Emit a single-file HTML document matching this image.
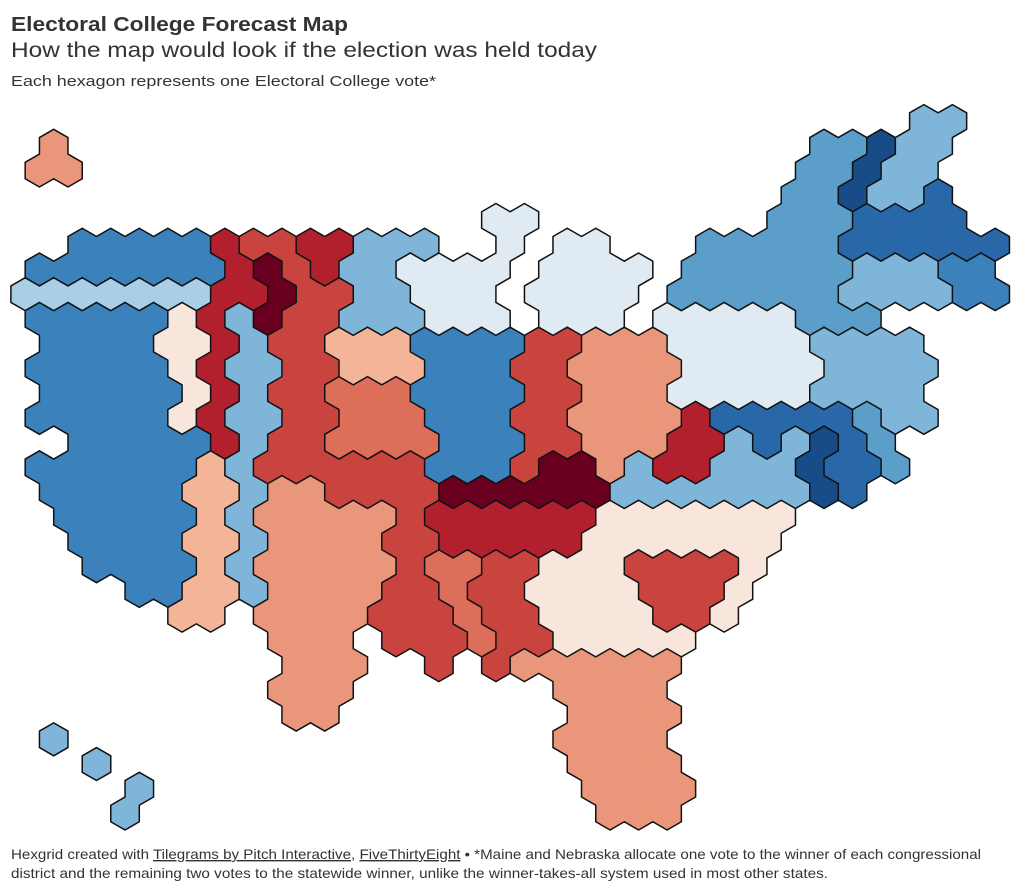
<!DOCTYPE html>
<html><head><meta charset="utf-8"><style>
html,body{margin:0;padding:0;background:#fff;}
svg{display:block;font-family:"Liberation Sans",Arial,sans-serif;}
</style></head><body>
<svg id="chart" width="1020" height="893" viewBox="0 0 1020 893">
<text x="11" y="31" font-size="20" font-weight="bold" fill="#333" textLength="337" lengthAdjust="spacingAndGlyphs">Electoral College Forecast Map</text>
<text x="11" y="57" font-size="21" fill="#333" textLength="586" lengthAdjust="spacingAndGlyphs">How the map would look if the election was held today</text>
<text x="11" y="86" font-size="15" fill="#333" textLength="425" lengthAdjust="spacingAndGlyphs">Each hexagon represents one Electoral College vote*</text>
<g id="cells"></g>
<g id="borders"></g>
<text x="11" y="859" font-size="14" fill="#333" textLength="970" lengthAdjust="spacingAndGlyphs">Hexgrid created with <tspan text-decoration="underline">Tilegrams by Pitch Interactive</tspan>, <tspan text-decoration="underline">FiveThirtyEight</tspan> • *Maine and Nebraska allocate one vote to the winner of each congressional</text>
<text x="11" y="878" font-size="14" fill="#333" textLength="817" lengthAdjust="spacingAndGlyphs">district and the remaining two votes to the statewide winner, unlike the winner-takes-all system used in most other states.</text>
</svg>
<script>
// rating categories (color per forecast category)
const ratingKeys = ["A","B","C","D","E","F","P","W","L","K","M","N","O","Q"];
const ratingColors = ["#e9967a","#f4b498","#dd6f5a","#c9443f","#b2202d","#6a0020","#f8e5dc","#dfeaf2","#a8cfe5","#7fb5d8","#5b9ec9","#3b81bb","#2868a8","#174c89"];
// hex rows: each entry "rating:mStart-mEnd" (doubled column coords, step 2)
const rowIndex = [-1,0,1,2,3,4,5,6,7,8,9,10,11,12,13,14,15,16,17,18,19,20,21,22,23,24,25,26,27];
const rowSegments = [
"K:61-63",
"A:0-0 M:54-56 Q:58-58 K:60-62",
"A:-1-1 M:53-55 Q:57-57 K:59-61",
"M:52-54 Q:56-56 K:58-60 O:62-62",
"W:31-33 M:51-55 O:57-63",
"N:2-10 E:12-12 D:14-16 E:18-20 K:22-26 W:32-32 W:36-38 M:46-54 O:56-66",
"N:-1-11 E:13-13 F:15-15 D:17-17 E:19-19 K:21-23 W:25-31 W:35-41 M:45-55 K:57-61 N:63-65",
"L:-2-10 E:12-14 F:16-16 D:18-20 K:22-24 W:26-30 W:34-40 M:44-54 K:56-62 N:64-66",
"N:-1-7 P:9-9 E:11-11 K:13-13 F:15-15 D:17-19 K:21-25 W:27-31 W:35-39 W:43-51 M:53-57",
"N:0-6 P:8-10 E:12-12 K:14-14 D:16-18 B:20-24 N:26-32 D:34-36 A:38-42 W:44-52 K:54-60",
"N:-1-7 P:9-9 E:11-11 K:13-15 D:17-19 B:21-25 N:27-31 D:33-35 A:37-43 W:45-53 K:55-61",
"N:0-8 P:10-10 E:12-12 K:14-14 D:16-18 C:20-24 N:26-32 D:34-36 A:38-42 W:44-52 K:54-60",
"N:-1-7 P:9-9 E:11-11 K:13-15 D:17-19 C:21-25 N:27-31 D:33-35 A:37-43 E:45-45 O:47-55 M:57-57 K:59-61",
"N:2-10 E:12-12 K:14-14 D:16-18 C:20-26 N:28-32 D:34-36 A:38-42 E:44-46 K:48-48 O:50-50 K:52-52 Q:54-54 O:56-56 M:58-58",
"N:-1-9 B:11-11 K:13-13 D:15-25 N:27-31 D:33-33 F:35-37 A:39-39 K:41-41 E:43-45 K:47-51 Q:53-53 O:55-57 M:59-59",
"N:0-8 B:10-12 K:14-14 A:16-18 D:20-26 F:28-38 K:40-52 Q:54-54 O:56-56",
"N:1-9 B:11-11 K:13-13 A:15-23 D:25-25 E:27-37 P:39-51",
"N:2-8 B:10-12 K:14-14 A:16-22 D:24-26 E:28-36 P:38-50",
"N:3-9 B:11-11 K:13-13 A:15-23 D:25-25 C:27-29 D:31-33 P:35-39 D:41-47 P:49-49",
"N:6-8 B:10-12 K:14-14 A:16-22 D:24-26 C:28-28 D:30-32 P:34-40 D:42-46 P:48-48",
"B:9-11 A:15-21 D:23-27 C:29-29 D:31-33 P:35-41 D:43-45 P:47-47",
"A:16-20 D:24-28 C:30-30 D:32-34 P:36-44",
"A:17-21 D:27-27 D:31-31 A:33-43",
"A:16-20 A:36-42",
"A:17-19 A:37-43",
"K:0-0 A:36-42",
"K:3-3 A:37-43",
"K:6-6 A:38-44",
"K:5-5 A:39-43"
];

const NS = "http://www.w3.org/2000/svg";
const W = 28.53, R = W / Math.sqrt(3), RH = 24.73, X0 = 53.7, Y0 = 145.8;
function xScale(m){ return X0 + m * W / 2; }
function yScale(j){ return Y0 + j * RH; }

const cells = new Map();
rowIndex.forEach((j, i) => {
  rowSegments[i].split(" ").forEach(seg => {
    const [key, range] = seg.split(":");
    const mm = range.match(/^(-?\d+)-(-?\d+)$/);
    const a = +mm[1], b = +mm[2];
    for (let m = a; m <= b; m += 2) cells.set(j + "," + m, key);
  });
});
function colorOf(key){ return ratingColors[ratingKeys.indexOf(key)]; }
function vert(cx, cy, k){ const ang = (-90 + 60 * k) * Math.PI / 180; return [cx + R * Math.cos(ang), cy + R * Math.sin(ang)]; }

const gCells = document.getElementById("cells");
const gBorders = document.getElementById("borders");
// neighbor offsets for edge k (vertex k -> k+1)
const nb = [[-1,1],[0,2],[1,1],[1,-1],[0,-2],[-1,-1]];
let borderPath = "";
cells.forEach((key, id) => {
  const [j, m] = id.split(",").map(Number);
  const cx = xScale(m), cy = yScale(j);
  const pts = [];
  for (let k = 0; k < 6; k++) pts.push(vert(cx, cy, k).map(v => v.toFixed(2)).join(","));
  const poly = document.createElementNS(NS, "polygon");
  poly.setAttribute("points", pts.join(" "));
  poly.setAttribute("fill", colorOf(key));
  poly.setAttribute("stroke", colorOf(key));
  poly.setAttribute("stroke-width", "0.8");
  
  
  gCells.appendChild(poly);
  for (let k = 0; k < 6; k++) {
    const nk = (j + nb[k][0]) + "," + (m + nb[k][1]);
    if (cells.get(nk) !== key) {
      const p1 = vert(cx, cy, k), p2 = vert(cx, cy, (k + 1) % 6);
      borderPath += "M" + p1[0].toFixed(2) + "," + p1[1].toFixed(2) + "L" + p2[0].toFixed(2) + "," + p2[1].toFixed(2);
    }
  }
});
const bp = document.createElementNS(NS, "path");
bp.setAttribute("d", borderPath);
bp.setAttribute("fill", "none");
bp.setAttribute("stroke", "#111");
bp.setAttribute("stroke-width", "1.5");
bp.setAttribute("stroke-linecap", "round");


gBorders.appendChild(bp);
</script>
</body></html>
